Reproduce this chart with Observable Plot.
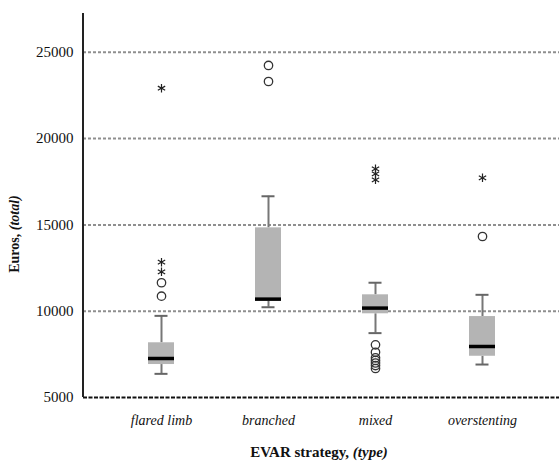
<!DOCTYPE html>
<html>
<head>
<meta charset="utf-8">
<script src="https://cdn.jsdelivr.net/npm/d3@7"></script>
<script src="https://cdn.jsdelivr.net/npm/@observablehq/plot@0.6"></script>
<style>
  html, body { margin: 0; padding: 0; background: #fff; }
  #chart svg { display: block; }
</style>
</head>
<body>
<div id="chart"></div>
<script>
const categories = ["flared limb", "branched", "mixed", "overstenting"];
const whiskerLow  = [6370, 10230, 8730, 6910];
const q1          = [6910, 10580, 9850, 7390];
const median      = [7260, 10700, 10180, 7955];
const q3          = [8170, 14830, 10950, 9690];
const whiskerHigh = [9730, 16660, 11650, 10950];
const outlierCategory = ["flared limb", "flared limb", "branched", "branched", "mixed", "mixed", "mixed", "mixed", "mixed", "mixed", "mixed", "overstenting"];
const outlierValue    = [10870, 11650, 23310, 24240, 8050, 7620, 7300, 7150, 7000, 6850, 6680, 14330];
const extremeCategory = ["flared limb", "flared limb", "flared limb", "mixed", "mixed", "mixed", "overstenting"];
const extremeValue    = [12280, 12840, 22920, 17610, 17960, 18250, 17730];
const yTicks = [5000, 10000, 15000, 20000, 25000];
const gridTicks = [10000, 15000, 20000, 25000];

const boxes = categories.map((c, i) => ({
  cat: c, lo: whiskerLow[i], q1: q1[i], med: median[i], q3: q3[i], hi: whiskerHigh[i]
}));
const outliers = outlierCategory.map((c, i) => ({cat: c, v: outlierValue[i]}));
const extremes = extremeCategory.map((c, i) => ({cat: c, v: extremeValue[i]}));

const serif = "'Liberation Serif', 'Times New Roman', serif";

const plot = Plot.plot({
  width: 559,
  height: 462,
  marginLeft: 83,
  marginRight: 0,
  marginTop: 13,
  marginBottom: 65,
  style: {fontFamily: serif, background: "#fff"},
  x: {domain: categories, paddingInner: 0.76, paddingOuter: 0.595, label: null},
  y: {domain: [5000, 27250], label: null},
  marks: [
    Plot.ruleY(gridTicks, {stroke: "#8f8f8f", strokeWidth: 2, strokeDasharray: "3,2"}),
    Plot.ruleY([5000], {stroke: "#111", strokeWidth: 2, strokeDasharray: "4,1.5"}),
    Plot.ruleX(boxes, {x: "cat", y1: "q3", y2: "hi", stroke: "#777", strokeWidth: 2}),
    Plot.ruleX(boxes, {x: "cat", y1: "lo", y2: "q1", stroke: "#777", strokeWidth: 2}),
    Plot.tickY(boxes, {x: "cat", y: "hi", stroke: "#666", strokeWidth: 2, insetLeft: 6.5, insetRight: 6.5}),
    Plot.tickY(boxes, {x: "cat", y: "lo", stroke: "#666", strokeWidth: 2, insetLeft: 6.5, insetRight: 6.5}),
    Plot.barY(boxes, {x: "cat", y1: "q1", y2: "q3", fill: "#b4b4b4"}),
    Plot.tickY(boxes, {x: "cat", y: "med", stroke: "#000", strokeWidth: 3.5}),
    Plot.dot(outliers, {x: "cat", y: "v", r: 4.2, stroke: "#333", strokeWidth: 1.3, fill: "none"}),
    Plot.dot(extremes, {x: "cat", y: "v", r: 4, symbol: "asterisk", stroke: "#222", strokeWidth: 1.2}),
    Plot.axisY({ticks: yTicks, tickSize: 0, tickPadding: 10, tickFormat: d => String(d), fontSize: 15, fill: "#111", label: null}),
    Plot.axisX({tickSize: 0, tickPadding: 18, fontSize: 14, fontStyle: "italic", fill: "#111", label: null})
  ]
});

const svg = d3.select(plot);
// y axis line
svg.append("line")
  .attr("x1", 83).attr("x2", 83).attr("y1", 13).attr("y2", 397)
  .attr("stroke", "#222").attr("stroke-width", 2);

const yl = svg.append("text")
  .attr("transform", "translate(19,234) rotate(-90)")
  .attr("text-anchor", "middle")
  .attr("font-family", serif).attr("font-size", 14).attr("font-weight", "bold").attr("fill", "#111");
yl.append("tspan").text("Euros, ");
yl.append("tspan").attr("font-style", "italic").text("(total)");

const xl = svg.append("text")
  .attr("x", 319).attr("y", 457)
  .attr("text-anchor", "middle")
  .attr("font-family", serif).attr("font-size", 15).attr("font-weight", "bold").attr("fill", "#111");
xl.append("tspan").text("EVAR strategy, ");
xl.append("tspan").attr("font-style", "italic").text("(type)");

document.getElementById("chart").appendChild(plot);
</script>
</body>
</html>
